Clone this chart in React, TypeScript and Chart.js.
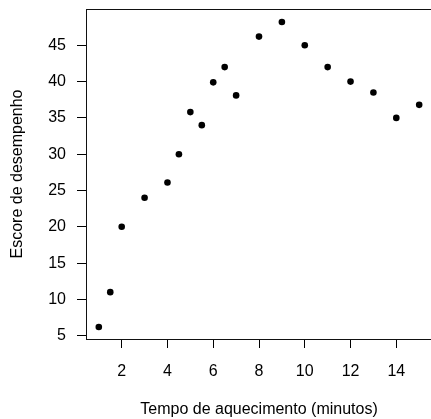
import React, { useEffect, useRef } from "react";
import { Chart, registerables } from "chart.js";

Chart.register(...registerables);

const warmupMinutes = [1, 1.5, 2, 3, 4, 4.5, 5, 5.5, 6, 6.5, 7, 8, 9, 10, 11, 12, 13, 14, 15];
const performanceScores = [6.2, 11.0, 20.0, 24.0, 26.1, 30.0, 35.8, 34.0, 39.9, 42.0, 38.1, 46.2, 48.2, 45.0, 42.0, 40.0, 38.5, 35.0, 36.8];
const xTickValues = [2, 4, 6, 8, 10, 12, 14];
const yTickValues = [5, 10, 15, 20, 25, 30, 35, 40, 45];
const xTitle = "Tempo de aquecimento (minutos)";
const yTitle = "Escore de desempenho";

const FONT = "'Liberation Sans', Arial, Helvetica, sans-serif";

export default function App() {
  const ref = useRef<HTMLCanvasElement>(null);

  useEffect(() => {
    if (!ref.current) return;
    const boxPlugin = {
      id: "rbox",
      afterDraw(chart: any) {
        const { ctx, chartArea: a } = chart;
        ctx.save();
        ctx.strokeStyle = "#111";
        ctx.lineWidth = 1;
        ctx.strokeRect(Math.round(a.left) + 0.5, Math.round(a.top) + 0.5, Math.round(a.right - a.left), Math.round(a.bottom - a.top));
        ctx.restore();
      },
    };
    const resetPad = (s: any) => {
      s.paddingLeft = 0;
      s.paddingRight = 0;
      s.paddingTop = 0;
      s.paddingBottom = 0;
    };
    const chart = new Chart(ref.current, {
      type: "scatter",
      data: {
        datasets: [
          {
            data: warmupMinutes.map((x, i) => ({ x, y: performanceScores[i] })),
            backgroundColor: "#000",
            borderColor: "#000",
            borderWidth: 0,
            pointRadius: 3.3,
          },
        ],
      },
      options: {
        responsive: false,
        animation: false,
        layout: { padding: { top: 9, left: 0, right: 0, bottom: 0 } },
        plugins: { legend: { display: false }, tooltip: { enabled: false } },
        scales: {
          x: {
            type: "linear",
            min: 0.44,
            max: 15.56,
            afterBuildTicks: (s: any) => {
              s.ticks = xTickValues.map((v) => ({ value: v }));
            },
            afterFit: (s: any) => {
              s.height = 80;
              resetPad(s);
            },
            border: { display: false },
            grid: { display: true, drawOnChartArea: false, drawTicks: true, tickLength: 9, color: "#000", lineWidth: 1 },
            ticks: { autoSkip: false, maxRotation: 0, padding: 14, color: "#000", font: { family: FONT, size: 16 } },
            title: { display: true, text: xTitle, color: "#000", font: { family: FONT, size: 16 }, padding: { top: 0, bottom: 0 } },
          },
          y: {
            type: "linear",
            min: 4.55,
            max: 50.0,
            afterBuildTicks: (s: any) => {
              s.ticks = yTickValues.map((v) => ({ value: v }));
            },
            afterFit: (s: any) => {
              s.width = 86;
              resetPad(s);
            },
            border: { display: false },
            grid: { display: true, drawOnChartArea: false, drawTicks: true, tickLength: 9, color: "#000", lineWidth: 1 },
            ticks: { autoSkip: false, padding: 11, color: "#000", font: { family: FONT, size: 16 } },
            title: { display: true, text: yTitle, color: "#000", font: { family: FONT, size: 16 }, padding: { top: 8, bottom: 0 } },
          },
        },
      },
      plugins: [boxPlugin],
    } as any);
    return () => chart.destroy();
  }, []);

  return (
    <div style={{ position: "fixed", left: 0, top: 0, width: 431, height: 419, overflow: "hidden", background: "#fff" }}>
      <canvas ref={ref} width={436} height={419} style={{ display: "block" }} />
    </div>
  );
}
